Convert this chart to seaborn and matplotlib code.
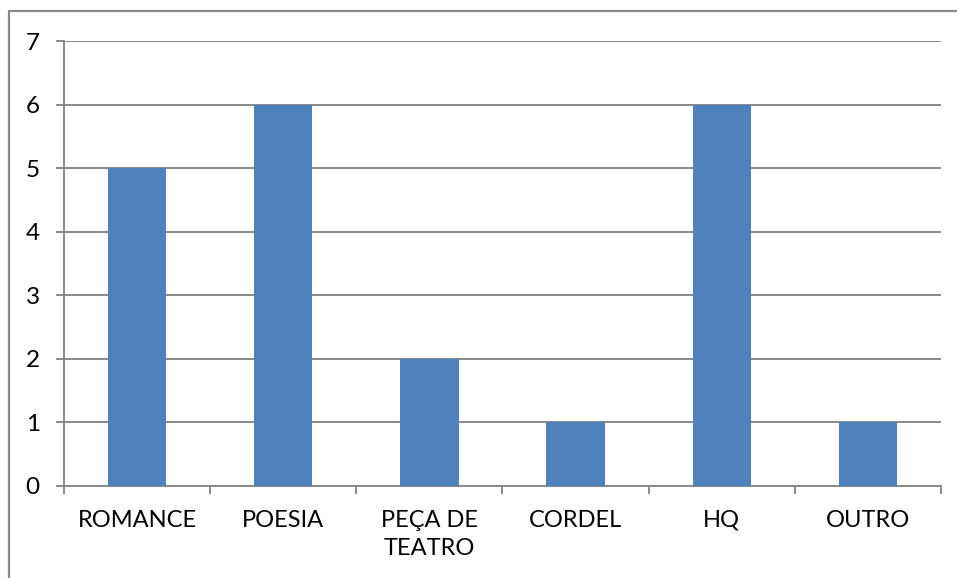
import matplotlib
matplotlib.use("Agg")
import matplotlib.pyplot as plt
from matplotlib.lines import Line2D
import seaborn as sns
import pandas as pd
import numpy as np

categories = ["ROMANCE", "POESIA", "PEÇA DE\nTEATRO", "CORDEL", "HQ", "OUTRO"]
values = [5, 6, 2, 1, 6, 1]
y_ticks = [0, 1, 2, 3, 4, 5, 6, 7]

sns.set_theme(style="white")
plt.rcParams["font.family"] = ["Lato", "DejaVu Sans"]

W, H = 957, 578
fig = plt.figure(figsize=(W / 100, H / 100), dpi=100)
ax = fig.add_axes([64 / W, 1 - 486 / H, (941 - 64) / W, (486 - 41) / H])

df = pd.DataFrame({"categoria": categories, "valor": values})
sns.barplot(data=df, x="categoria", y="valor", color="#4F81BD", width=0.4,
            saturation=1, linewidth=0, edgecolor="none", ax=ax, zorder=3)

grid = "#898989"
ax.set_ylim(0, 7)
ax.set_xlim(-0.5, len(categories) - 0.5)
ax.set_yticks(y_ticks)
for y in y_ticks:
    ax.axhline(y, color=grid, lw=1.4, zorder=1)
ax.set_xlabel("")
ax.set_ylabel("")

for side in ["top", "right"]:
    ax.spines[side].set_visible(False)
for side in ["left", "bottom"]:
    ax.spines[side].set_color(grid)
    ax.spines[side].set_linewidth(1.4)

ax.tick_params(axis="y", length=5.5, width=1.4, color=grid, pad=12,
               labelsize=17.5, labelcolor="black", left=True)
ax.set_xticks(np.arange(len(categories)))
ax.set_xticklabels(categories, linespacing=1.45)
ax.tick_params(axis="x", which="major", length=0, pad=17, labelsize=17,
               labelcolor="black")
ax.set_xticks(np.arange(-0.5, len(categories)), minor=True)
ax.tick_params(axis="x", which="minor", length=5.5, width=1.4, color=grid,
               bottom=True)

# chart frame edges
fig.add_artist(Line2D([9 / W, 9 / W], [0, 1 - 11 / H], color=grid, lw=1.6,
                      transform=fig.transFigure))
fig.add_artist(Line2D([9 / W, 1], [1 - 11 / H, 1 - 11 / H], color=grid, lw=1.6,
                      transform=fig.transFigure))

fig.savefig("out.png", dpi=100, facecolor="white")
